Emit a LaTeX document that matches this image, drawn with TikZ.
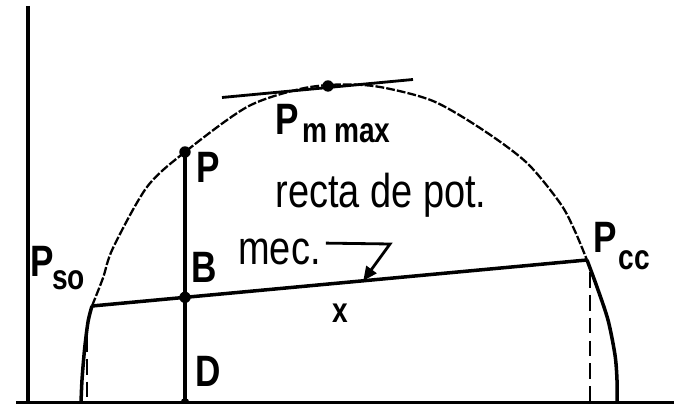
\documentclass[tikz,border=0pt]{standalone}
\usepackage{fontspec}
\usetikzlibrary{arrows.meta, positioning, calc}
\newfontfamily\diagfont[FakeStretch=0.8]{Liberation Sans}
\tikzset{
    axis/.style={
        line width=2pt,
        black
    },
    thickline/.style={
        line width=2pt,
        black
    },
    arcline/.style={
        line width=1.3pt,
        black,
        dash pattern=on 5pt off 1.2pt
    },
    dashline/.style={
        line width=1.7pt,
        black,
        dash pattern=on 9pt off 4pt
    },
    dot/.style={
        circle,
        fill=black,
        inner sep=0pt,
        minimum size=6.5pt
    },
    lbl/.style={
        inner sep=0pt,
        anchor=base west,
        font=\diagfont\fontsize{25}{25}\selectfont\bfseries
    },
    txt/.style={
        inner sep=0pt,
        font=\diagfont\fontsize{27}{27}\selectfont
    },
    pointer/.style={
        -{Triangle[length=8pt,width=7pt]},
        line width=1.6pt,
        black
    }
}
\newcommand{\subtxt}[2]{\raisebox{-#1}{\fontsize{20}{20}\selectfont #2}}

\begin{document}
\begin{tikzpicture}[x=0.02cm, y=-0.02cm]
        \useasboundingbox (0,0) rectangle (674,404);

        % Axes
        \coordinate (o) at (28,402.5);
        \coordinate (ytop) at (28,6);
        \coordinate (xl) at (16,402.5);
        \coordinate (xr) at (674,402.5);
        \draw[axis] (ytop) -- (o |- xr);
        \draw[axis] (xl) -- (xr);

        % Points on the curve
        \coordinate (Pso) at (92,306);
        \coordinate (Pcc) at (587,260);
        \coordinate (P) at (185,152);
        \coordinate (D) at (185,402.5);
        \coordinate (Pmax) at (328,86);
        \coordinate (B) at (intersection of Pso--Pcc and P--D);

        % Upper arc
        \draw[arcline] plot[smooth] coordinates {(Pso) (103,278) (113,248) (147,187) (P) (247,107) (300,89) (340,84.5) (380,87) (433,101) (483,130) (527,163) (560,203) (574,229) (Pcc)};

        % Lower arcs
        \draw[thickline] plot[smooth] coordinates {(Pso) (88,322) (84.5,350) (82,380) (81,403)};
        \draw[thickline] plot[smooth] coordinates {(Pcc) (597,287) (608,320) (615,355) (617,380) (617,403)};
        \draw[dashline] (87,336) -- (87,402);
        \draw[dashline] (590,272) -- (590,402);

        % Power line and P-D segment
        \draw[thickline] (Pso) -- (Pcc);
        \draw[thickline] (P) -- (D);
        \node[dot] (dp) at (P) {};
        \node[dot] (db) at (B) {};
        \node[dot, minimum size=5pt] (dd) at (D) {};

        % Tangent at maximum
        \coordinate (t1) at (222,97.5);
        \coordinate (t2) at (413,79.5);
        \draw[thickline, line width=1.6pt] (t1) -- (t2);
        \node[dot] (dm) at (Pmax) {};

        % Labels
        \node[lbl] (lso) at (30,277) {P\kern-1pt\subtxt{7.4pt}{so}};
        \node[lbl] (lcc) at (593,253) {P\kern1pt\subtxt{9.6pt}{cc}};
        \node[lbl] (lmax) at (275,135) {P\kern2pt\subtxt{4.5pt}{m\kern4pt max}};
        \node[lbl] (lp) at (196,183) {P};
        \node[lbl] (lb) at (191,283) {B};
        \node[lbl] (ld) at (195,387) {D};
        \node[lbl, anchor=center, font=\diagfont\fontsize{20}{20}\selectfont\bfseries] (lx) at (340,313) {x};

        \node[txt, anchor=base] (recta) at (381,208) {recta de pot.};
        \node[txt, anchor=base west] (mec) at (238,265) {mec.};
        \coordinate (bend) at (390,244);
        \draw[pointer] ($(mec.north east)+(5,4)$) -- (bend) -- ($(Pso)!0.548!(Pcc)$);
    \end{tikzpicture}
\end{document}
